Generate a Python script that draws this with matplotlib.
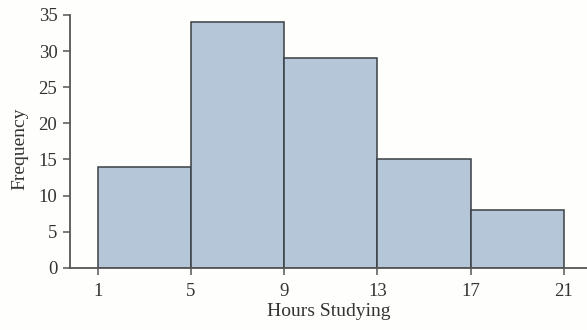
import matplotlib
matplotlib.use("Agg")
import matplotlib.pyplot as plt

bin_edges = [1, 5, 9, 13, 17, 21]
frequencies = [14, 34, 29, 15, 8]
x_ticks = [1, 5, 9, 13, 17, 21]
y_ticks = [0, 5, 10, 15, 20, 25, 30, 35]

plt.rcParams['font.family'] = ['Liberation Serif', 'DejaVu Serif']

fig = plt.figure(figsize=(5.87, 3.30), dpi=100, facecolor='#fefefc')
ax = fig.add_axes([0.119, 0.188, 0.881, 0.767])
ax.set_facecolor('#fefefc')

lefts = bin_edges[:-1]
widths = [b - a for a, b in zip(bin_edges[:-1], bin_edges[1:])]
ax.bar(lefts, frequencies, width=widths, align='edge', color='#b4c6d8',
       edgecolor='#3a3f44', linewidth=1.1)

ax.set_xlim(-0.2, 22)
ax.set_ylim(0, 35)
ax.set_xticks(x_ticks)
ax.set_yticks(y_ticks)
for s in ['top', 'right']:
    ax.spines[s].set_visible(False)
for s in ['left', 'bottom']:
    ax.spines[s].set_color('#555555')
    ax.spines[s].set_linewidth(1.3)
ax.tick_params(axis='both', direction='out', length=5, width=1.1, color='#555555',
               labelsize=13.5, labelcolor='#333333')
ax.tick_params(axis='x', pad=6)
ax.tick_params(axis='y', pad=4)
ax.set_xlabel('Hours Studying', fontsize=14, color='#333333', labelpad=2)
ax.set_ylabel('Frequency', fontsize=14, color='#333333', labelpad=5)
ax.yaxis.set_label_coords(-0.08, 0.47)

fig.savefig('out.png', dpi=100, facecolor=fig.get_facecolor())
